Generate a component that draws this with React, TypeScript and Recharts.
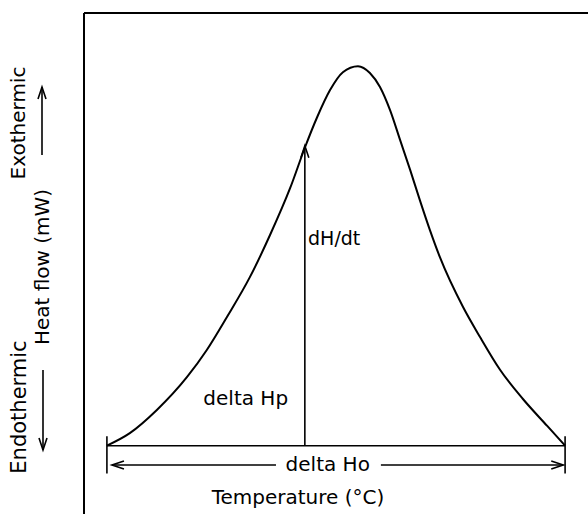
import { Line, LineChart, ReferenceDot, ReferenceLine, XAxis, YAxis } from "recharts";

// schematic DSC peak, arbitrary units (temperature 0-100, heat flow 0-100 at peak)
const temps = [0, 5.0, 10.9, 17.5, 21.8, 26.2, 31.2, 35.6, 40.0, 43.2, 45.9, 48.7, 51.5, 54.8, 57.4, 59.6, 61.8, 64.0, 66.2, 68.3, 70.5, 72.7, 77.7, 81.4, 85.8, 90.8, 96.1, 100];
const heatFlow = [0, 3.3, 9.4, 18.1, 25.2, 33.9, 44.4, 55.5, 67.9, 78.5, 86.6, 93.7, 98.4, 100, 98.2, 94.5, 88.4, 80.5, 72.6, 64.7, 56.8, 49.6, 36.6, 28.7, 20.0, 12.3, 5.2, 0];

const onsetTemp = 0;
const endTemp = 100;
const peakMarkTemp = 43.2;
const peakMarkFlow = 79;

const xDomain = [-5, 105];
const yDomain = [-18, 114];

const data = temps.map((t, i) => ({ t, flow: heatFlow[i] }));

const FONT = "DejaVu Sans, sans-serif";

function arrowHead(x1: number, y1: number, x2: number, y2: number, len = 12, half = 4) {
  const dx = x2 - x1;
  const dy = y2 - y1;
  const d = Math.hypot(dx, dy) || 1;
  const ux = dx / d;
  const uy = dy / d;
  const bx = x2 - ux * len;
  const by = y2 - uy * len;
  return `M${bx - uy * half},${by + ux * half} L${x2},${y2} L${bx + uy * half},${by - ux * half}`;
}

function ArrowLine(props: any) {
  const { x1, y1, x2, y2 } = props;
  return (
    <g>
      <line x1={x1} y1={y1} x2={x2} y2={y2} stroke="#000" strokeWidth={1.6} />
      <path d={arrowHead(x1, y1, x2, y2)} fill="none" stroke="#000" strokeWidth={1.6} />
    </g>
  );
}

function SideText({ x, y, size, children }: any) {
  return (
    <text
      x={x}
      y={y}
      transform={`rotate(-90 ${x} ${y})`}
      textAnchor="middle"
      dominantBaseline="central"
      style={{ fontFamily: FONT, fontSize: size, fill: "#000" }}
    >
      {children}
    </text>
  );
}

function SideLabels(props: any) {
  const x0 = props.viewBox ? props.viewBox.x : 0;
  return (
    <g>
      <SideText x={x0 + 18} y={123} size={20}>Exothermic</SideText>
      <SideText x={x0 + 42} y={267} size={20}>Heat flow (mW)</SideText>
      <SideText x={x0 + 19} y={407} size={21}>Endothermic</SideText>
      <ArrowLine x1={x0 + 42} y1={155} x2={x0 + 42} y2={87} />
      <ArrowLine x1={x0 + 43} y1={370} x2={x0 + 43} y2={450} />
    </g>
  );
}

function note(value: string, size = 20) {
  return {
    value,
    position: "center" as const,
    style: { fontFamily: FONT, fontSize: size, fill: "#000" },
  };
}

export default function App() {
  return (
    <div>
      <style>{"body{margin:0;background:#fff}"}</style>
      <LineChart width={588} height={514} data={data} margin={{ top: 13, right: 0, bottom: 0, left: 0 }}>
        <XAxis dataKey="t" type="number" domain={xDomain} hide />
        <YAxis
          type="number"
          domain={yDomain}
          width={84}
          tick={false}
          tickLine={false}
          axisLine={{ stroke: "#000", strokeWidth: 2 }}
          label={(p: any) => <SideLabels {...p} />}
        />
        <ReferenceLine y={yDomain[1]} stroke="#000" strokeWidth={2} />
        <ReferenceLine segment={[{ x: onsetTemp, y: 0 }, { x: endTemp, y: 0 }]} stroke="#000" strokeWidth={1.6} />
        <ReferenceLine segment={[{ x: onsetTemp, y: 2.5 }, { x: onsetTemp, y: -7.3 }]} stroke="#000" strokeWidth={1.6} />
        <ReferenceLine segment={[{ x: endTemp, y: 2.5 }, { x: endTemp, y: -7.3 }]} stroke="#000" strokeWidth={1.6} />
        <ReferenceLine
          segment={[{ x: peakMarkTemp, y: 0 }, { x: peakMarkTemp, y: peakMarkFlow }]}
          shape={(p: any) => <ArrowLine {...p} />}
        />
        <ReferenceLine segment={[{ x: 36.9, y: -5.1 }, { x: 1.1, y: -5.1 }]} shape={(p: any) => <ArrowLine {...p} />} />
        <ReferenceLine segment={[{ x: 59.8, y: -5.1 }, { x: 99.6, y: -5.1 }]} shape={(p: any) => <ArrowLine {...p} />} />
        <ReferenceDot x={49.6} y={54.7} r={0} fill="none" stroke="none" label={note("dH/dt", 19)} />
        <ReferenceDot x={30.3} y={12.7} r={0} fill="none" stroke="none" label={note("delta Hp")} />
        <ReferenceDot x={48.2} y={-4.9} r={0} fill="none" stroke="none" label={note("delta Ho")} />
        <ReferenceDot x={41.7} y={-13.6} r={0} fill="none" stroke="none" label={note("Temperature (°C)")} />
        <Line
          type="monotone"
          dataKey="flow"
          stroke="#000"
          strokeWidth={2}
          dot={false}
          activeDot={false}
          isAnimationActive={false}
        />
      </LineChart>
    </div>
  );
}
